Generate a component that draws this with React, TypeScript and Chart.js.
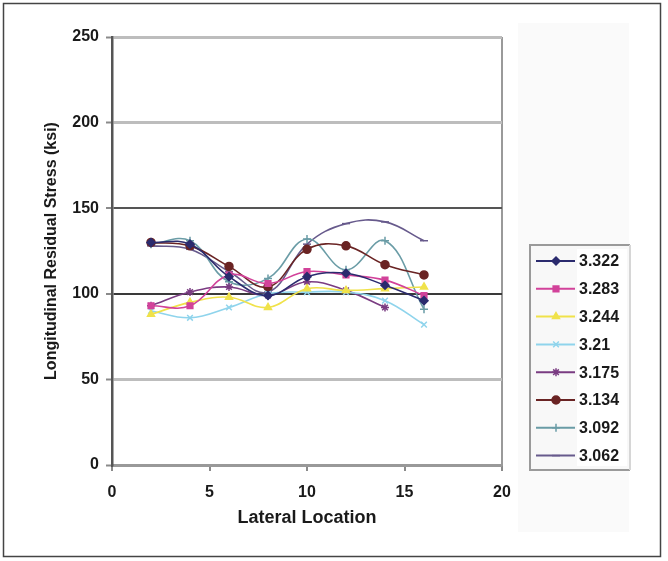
import React, { useEffect, useRef } from "react";
import { Chart, registerables } from "chart.js";
import { drawPoint } from "chart.js/helpers";

Chart.register(...registerables);

const xValues = [2, 4, 6, 8, 10, 12, 14, 16];
const seriesNames = ["3.322", "3.283", "3.244", "3.21", "3.175", "3.134", "3.092", "3.062"];
const s3322 = [130, 129, 110, 99, 110, 112, 105, 96];
const s3283 = [93, 93, 111, 106, 113, 111, 108, 99];
const s3244 = [88, 95, 98, 92, 103, 102, 103, 104];
const s3210 = [90, 86, 92, 100, 101, 101, 96, 82];
const s3175 = [93, 101, 104, 99, 107, 102, 92, null];
const s3134 = [130, 128, 116, 104, 126, 128, 117, 111];
const s3092 = [129, 131, 107, 109, 132, 114, 131, 91];
const s3062 = [128, 126, 113, 101, 129, 141, 142, 131];
const seriesValues = [s3322, s3283, s3244, s3210, s3175, s3134, s3092, s3062];

const xTicks = [0, 5, 10, 15, 20];
const yTicks = [0, 50, 100, 150, 200, 250];

const colors = ["#2b2b6e", "#d2429a", "#f0e24a", "#8fd4ec", "#7a3c82", "#6a2424", "#6a9ca6", "#675a8c"];
const markers = ["rectRot", "rect", "triangle", "crossRot", "star", "circle", "cross", "line"];
const markerRadius = [4, 4, 4, 4, 4, 4, 4, 4];

const FONT = "'Liberation Sans', Arial, Helvetica, sans-serif";

const framePlugin = {
  id: "frame",
  beforeDraw(chart: any) {
    const ctx = chart.ctx;
    ctx.save();
    ctx.fillStyle = "#ffffff";
    ctx.fillRect(0, 0, chart.width, chart.height);
    ctx.fillStyle = "#fafafa";
    ctx.fillRect(518, 23, 111, 509);
    ctx.strokeStyle = "#444";
    ctx.lineWidth = 1.5;
    ctx.strokeRect(3.5, 3.5, 657, 553);
    ctx.restore();
  },
  afterDraw(chart: any) {
    const ctx = chart.ctx;
    ctx.save();
    const bx = 530, by = 245, bw = 100, bh = 225;
    ctx.fillStyle = "#f8f8f8";
    ctx.fillRect(bx, by, bw, bh);
    ctx.fillStyle = "#ffffff";
    ctx.fillRect(577, by + 4, 50, bh - 8);
    ctx.strokeStyle = "#9a9a9a";
    ctx.lineWidth = 2;
    ctx.beginPath();
    ctx.moveTo(bx + bw, by);
    ctx.lineTo(bx, by);
    ctx.lineTo(bx, by + bh);
    ctx.lineTo(bx + bw, by + bh);
    ctx.stroke();
    ctx.strokeStyle = "#d6d6d6";
    ctx.beginPath();
    ctx.moveTo(bx + bw, by);
    ctx.lineTo(bx + bw, by + bh);
    ctx.stroke();
    const step = 27.8;
    chart.data.datasets.forEach((ds: any, i: number) => {
      const y = 261 + i * step;
      ctx.strokeStyle = ds.borderColor;
      ctx.lineWidth = 2;
      ctx.beginPath();
      ctx.moveTo(536, y);
      ctx.lineTo(575, y);
      ctx.stroke();
      ctx.fillStyle = ds.pointBackgroundColor;
      ctx.strokeStyle = ds.pointBorderColor;
      ctx.lineWidth = 1.5;
      drawPoint(ctx, { pointStyle: ds.pointStyle, radius: ds.pointRadius, rotation: 0, borderWidth: 1.5 }, 556, y);
      ctx.fillStyle = "#1a1a1a";
      ctx.font = `bold 16px ${FONT}`;
      ctx.textAlign = "left";
      ctx.textBaseline = "middle";
      ctx.fillText(ds.label, 579, y + 1);
    });
    ctx.restore();
  },
};

function gridColor(v: number) {
  if (v === 100) return "#3a3a3a";
  if (v === 150) return "#555555";
  if (v === 0) return "#999999";
  return "#bdbdbd";
}

export default function App() {
  const ref = useRef<HTMLCanvasElement | null>(null);
  useEffect(() => {
    if (!ref.current) return;
    const datasets = seriesNames.map((name, i) => ({
      label: name,
      data: xValues.map((x, j) => ({ x, y: seriesValues[i][j] })),
      borderColor: colors[i],
      backgroundColor: colors[i],
      pointBackgroundColor: colors[i],
      pointBorderColor: colors[i],
      pointStyle: markers[i],
      pointRadius: markerRadius[i],
      pointBorderWidth: 1.5,
      borderWidth: 1.6,
      tension: 0.4,
      spanGaps: false,
    }));
    const chart = new Chart(ref.current, {
      type: "line",
      data: { datasets },
      plugins: [framePlugin],
      options: {
        animation: false,
        responsive: false,
        devicePixelRatio: 1,
        layout: { padding: { left: 0, top: 37, right: 166, bottom: 0 } },
        plugins: { legend: { display: false }, tooltip: { enabled: false } },
        scales: {
          x: {
            type: "linear",
            min: 0,
            max: 20,
            afterBuildTicks: (scale: any) => {
              scale.ticks = xTicks.map((v) => ({ value: v }));
            },
            afterFit: (scale: any) => {
              scale.height = 96;
            },
            ticks: {
              color: "#1a1a1a",
              font: { family: FONT, size: 16, weight: "bold" },
              padding: 12,
              maxRotation: 0,
            },
            grid: {
              color: (c: any) => (c.tick && c.tick.value === 20 ? "#9a9a9a" : "rgba(0,0,0,0)"),
              lineWidth: 2,
              tickLength: 6,
              tickColor: "#8a8a8a",
              tickWidth: 2,
            },
            border: { display: true, color: "#999999", width: 2 },
            title: {
              display: true,
              text: "Lateral Location",
              color: "#1a1a1a",
              font: { family: FONT, size: 18, weight: "bold" },
              padding: { top: 0, bottom: 32 },
            },
          },
          y: {
            type: "linear",
            min: 0,
            max: 250,
            afterBuildTicks: (scale: any) => {
              scale.ticks = yTicks.map((v) => ({ value: v }));
            },
            afterFit: (scale: any) => {
              scale.width = 112;
            },
            ticks: {
              color: "#1a1a1a",
              font: { family: FONT, size: 16, weight: "bold" },
              padding: 7,
            },
            grid: {
              color: (c: any) => gridColor(c.tick ? c.tick.value : -1),
              lineWidth: (c: any) => (c.tick && (c.tick.value === 100 || c.tick.value === 150) ? 2 : 3),
              tickLength: 6,
              tickColor: "#8a8a8a",
              tickWidth: 2,
            },
            border: { display: true, color: "#555555", width: 2.5 },
            title: {
              display: true,
              text: "Longitudinal Residual Stress (ksi)",
              color: "#1a1a1a",
              font: { family: FONT, size: 16, weight: "bold" },
              padding: { top: 42, bottom: 0 },
            },
          },
        },
      },
    } as any);
    return () => chart.destroy();
  }, []);
  return (
    <div style={{ position: "fixed", left: 0, top: 0, width: 668, height: 561, background: "#fff" }}>
      <canvas ref={ref} width={668} height={561} style={{ display: "block", width: 668, height: 561 }} />
    </div>
  );
}
